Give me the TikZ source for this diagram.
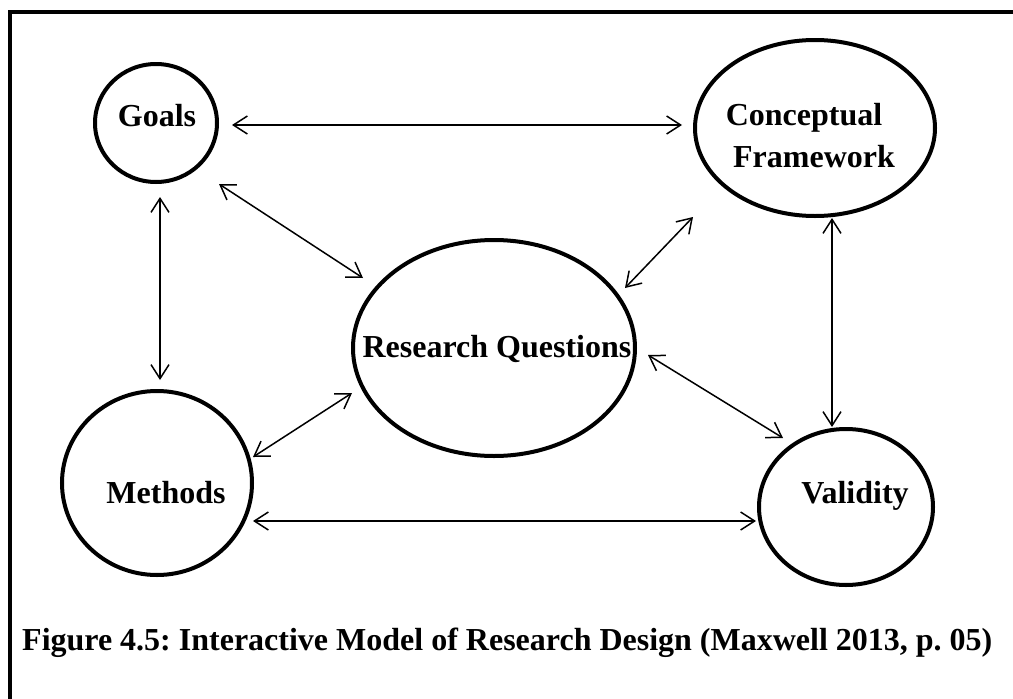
\documentclass[tikz,border=0pt]{standalone}
\usepackage{fontspec}
\setmainfont{Liberation Serif}
\usetikzlibrary{shapes.geometric,arrows.meta}
\frenchspacing
\tikzset{
  blob/.style={draw, ellipse, line width=4pt, inner sep=0pt},
  lbl/.style={font=\fontsize{32}{38}\selectfont\bfseries, anchor=base, inner sep=0pt},
  arr/.style={line width=1.5pt, {Straight Barb[length=14pt,width=18pt,line width=1.5pt]}-{Straight Barb[length=14pt,width=18pt,line width=1.5pt]}},
  frame/.style={line width=4pt}
}
\begin{document}
\begin{tikzpicture}[x=1pt,y=-1pt]
\useasboundingbox (0,0) rectangle (1013,699);
\fill[white] (0,0) rectangle (1013,699);
% frame
\coordinate (fl) at (10,699);
\coordinate (fc) at (10,12);
\coordinate (fr) at (1013,12);
\draw[frame] (fl) -- (fc) -- (fr);
% ellipses
\node[blob, minimum width=122pt, minimum height=118pt] (goals) at (156,123) {};
\node[blob, minimum width=240pt, minimum height=176pt] (cf) at (815,128) {};
\node[blob, minimum width=282pt, minimum height=216pt] (rq) at (494,348) {};
\node[blob, minimum width=190pt, minimum height=184pt] (meth) at (157,483) {};
\node[blob, minimum width=174pt, minimum height=156pt] (val) at (846,507) {};
% labels
\node[lbl] (tgoals) at (157,126) {Goals};
\node[lbl] (tcf1) at (804,125) {Conceptual};
\node[lbl] (tcf2) at (814,167) {Framework};
\node[lbl] (trq) at (497,357) {Research Questions};
\node[lbl] (tmeth) at (166,503) {Methods};
\node[lbl] (tval) at (855,503) {Validity};
\node[lbl, anchor=base west] (cap) at (22,650) {Figure 4.5: Interactive Model of Research Design (Maxwell 2013, p. 05)};
% connectors
\draw[arr] ([shift={(76,2)}]goals.center) -- ([shift={(-133,-3)}]cf.center);
\draw[arr] ([shift={(63,61)}]goals.center) -- ([shift={(-131,-70)}]rq.center);
\draw[arr] ([shift={(131,-60)}]rq.center) -- ([shift={(-122,89)}]cf.center);
\draw[arr] ([shift={(4,74)}]goals.center) -- ([shift={(3,-103)}]meth.center);
\draw[arr] ([shift={(96,-26)}]meth.center) -- ([shift={(-142,45)}]rq.center);
\draw[arr] ([shift={(96,38)}]meth.center) -- ([shift={(-90,14)}]val.center);
\draw[arr] ([shift={(154,7)}]rq.center) -- ([shift={(-63,-69)}]val.center);
\draw[arr] ([shift={(17,90)}]cf.center) -- ([shift={(-14,-80)}]val.center);
\end{tikzpicture}
\end{document}
